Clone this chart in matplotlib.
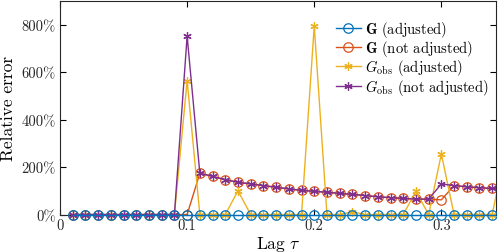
import numpy as np
import matplotlib
matplotlib.use('Agg')
import matplotlib.pyplot as plt
from matplotlib.ticker import FuncFormatter
from matplotlib.patches import Rectangle

plt.rcParams['font.family'] = 'serif'
plt.rcParams['font.serif'] = ['cmr10']
plt.rcParams['mathtext.fontset'] = 'cm'
plt.rcParams['axes.formatter.use_mathtext'] = True

# lags 0.01 .. 0.35
lag = np.round(np.arange(1, 36) * 0.01, 2)

g_adj = [0] * 35
g_not = [0, 0, 0, 0, 0, 0, 0, 0, 0, 0,
         174, 161, 147, 136, 129, 122, 115, 108, 102, 98,
         94, 89, 85, 80, 75, 71, 68, 65, 65, 62,
         122, 117, 113, 110, 108]
gobs_adj = [0, 0, 0, 0, 0, 0, 0, 0, 0, 565,
            0, 0, 0, 100, 0, 0, 0, 0, 0, 795,
            0, 0, 12, 0, 0, 0, 0, 98, 0, 255,
            0, 0, 0, 0, 260]
gobs_not = [0, 0, 0, 0, 0, 0, 0, 0, 0, 752,
            174, 161, 147, 136, 129, 122, 115, 108, 102, 98,
            94, 89, 85, 80, 75, 71, 68, 65, 65, 129,
            122, 117, 113, 110, 108]

blue = '#0072BD'
red = '#D95319'
yellow = '#EDB120'
purple = '#7E2F8E'
asterisk = (6, 2, 0)

fig = plt.figure(figsize=(4.98, 2.53), dpi=100)
ax = fig.add_axes([0.1205, 0.148, 0.8755, 0.844])

l2, = ax.plot(lag, g_not, color=red, marker='o', mfc='none', ms=6.8, lw=1,
              mew=0.9, label=r'$\mathbf{G}$ (not adjusted)', zorder=2)
l3, = ax.plot(lag, gobs_adj, color=yellow, marker=asterisk, ms=6, lw=1,
              mew=0.9, label=r'$G_{\mathrm{obs}}$ (adjusted)', zorder=3)
l4, = ax.plot(lag, gobs_not, color=purple, marker=asterisk, ms=6, lw=1,
              mew=0.9, label=r'$G_{\mathrm{obs}}$ (not adjusted)', zorder=4)
l1, = ax.plot(lag, g_adj, color=blue, marker='o', mfc='none', ms=6.8, lw=1,
              mew=0.9, label=r'$\mathbf{G}$ (adjusted)', zorder=5)

ax.set_xlim(0, 0.343)
ax.set_ylim(0, 900)

# clip only at the left/right edges so markers at 0% stay whole
clip = Rectangle((0, -0.1), 1.0, 1.2, transform=ax.transAxes,
                 facecolor='none', edgecolor='none')
ax.add_patch(clip)
for ln in (l1, l2, l3, l4):
    ln.set_clip_path(clip)

ax.set_xticks([0, 0.1, 0.2, 0.3])
ax.set_xticklabels(['0', '0.1', '0.2', '0.3'])
ax.set_yticks([0, 200, 400, 600, 800])
ax.yaxis.set_major_formatter(FuncFormatter(lambda v, p: '%d%%' % v))
ax.tick_params(direction='in', top=True, right=True, length=4, width=0.8,
               labelsize=10.5, pad=3, labelcolor='#262626')
for s in ax.spines.values():
    s.set_linewidth(0.8)
    s.set_color('#262626')

ax.set_xlabel(r'Lag $\tau$', fontsize=12.5, labelpad=1)
ax.set_ylabel('Relative error', fontsize=12.5, labelpad=4)

ax.legend(handles=[l1, l2, l3, l4], loc='upper right',
          bbox_to_anchor=(0.99, 0.93), frameon=False, fontsize=10.5,
          handlelength=1.7, handletextpad=0.3, labelspacing=-0.05,
          borderaxespad=0.0, borderpad=0.2)

fig.savefig('out.png', dpi=100)
